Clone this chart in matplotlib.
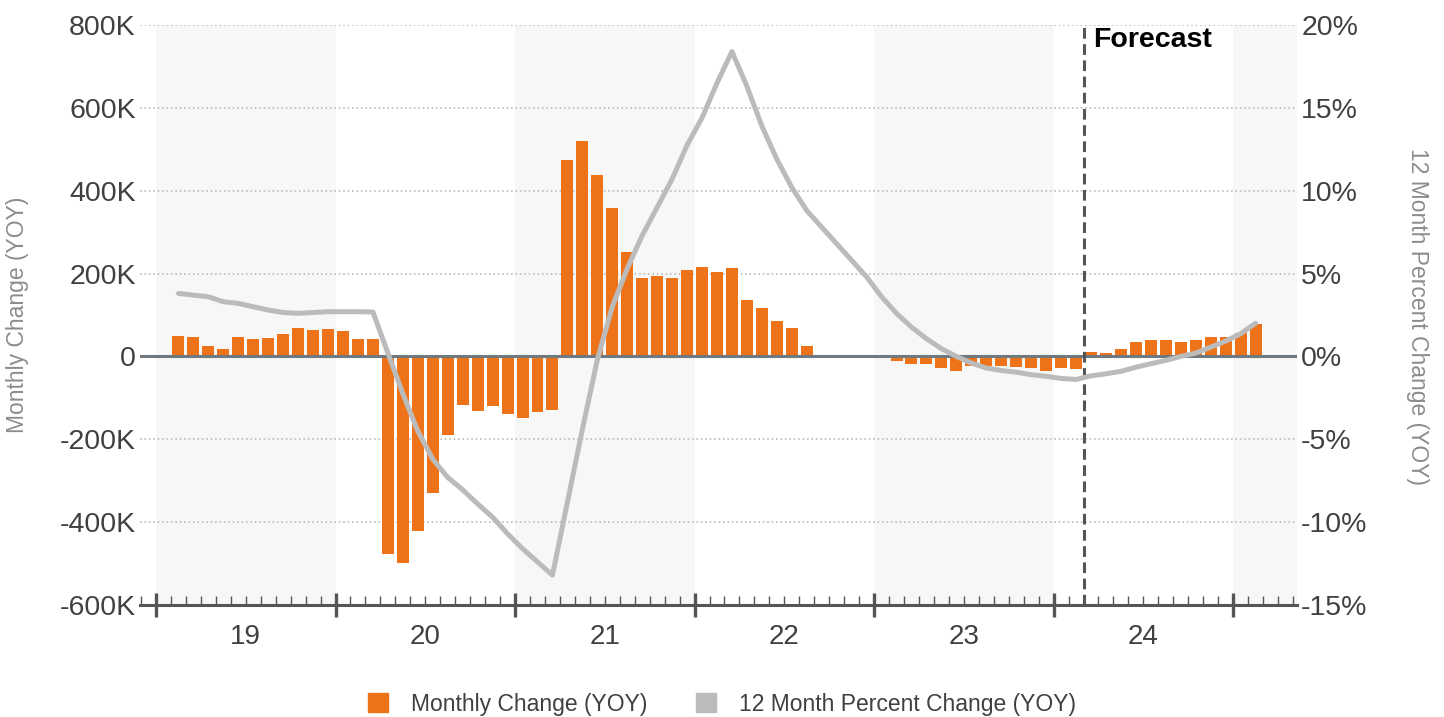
import matplotlib.pyplot as plt
import numpy as np
import pandas as pd
from matplotlib.patches import Patch

plt.rcParams['font.family'] = ['Liberation Sans', 'DejaVu Sans']

# ------------------------------------------------------------
# dados (mensal, fev/2019 a fev/2025)
# ------------------------------------------------------------
start_month = '2019-02'
end_month = '2025-02'
forecast_start = '2024-03'
shaded_years = [2019, 2021, 2023, 2025]
year_labels = ['19', '20', '21', '22', '23', '24']

# variacao mensal (YOY), em milhares
monthly_change_k = [
    49, 47, 26, 18, 46, 41, 44, 54, 68, 64, 66, 62, 43, 41,
    -476, -498, -422, -330, -190, -117, -131, -120, -138, -149, -134, -130,
    475, 521, 439, 359, 253, 189, 193, 189, 208, 216, 204, 213, 137, 118, 86, 69, 26,
    -3, -2, -2, -2, -3, -12, -18, -18, -29, -34, -23, -22, -24, -26, -29, -35, -28, -31,
    10, 8, 17, 36, 40, 40, 36, 39, 47, 48, 56, 79,
]

# variacao percentual 12 meses (YOY)
pct_change = [
    3.8, 3.7, 3.6, 3.3, 3.2, 3.0, 2.8, 2.65, 2.6, 2.65, 2.7, 2.7, 2.7, 2.68,
    0.2, -2.25, -4.5, -6.2, -7.3, -8.05, -8.9, -9.7, -10.7, -11.6, -12.4, -13.2,
    -8.8, -4.4, -0.2, 3.0, 5.3, 7.3, 9.0, 10.7, 12.75, 14.4, 16.5, 18.4, 16.3, 13.9,
    11.9, 10.2, 8.8, 7.8, 6.8, 5.8, 4.8, 3.6, 2.6, 1.77, 1.07, 0.47, 0.0, -0.4, -0.7,
    -0.85, -0.95, -1.1, -1.2, -1.33, -1.39, -1.17, -1.05, -0.9, -0.65, -0.44, -0.24,
    0.0, 0.2, 0.56, 0.92, 1.37, 2.0,
]

months = pd.period_range(start_month, end_month, freq='M')


def month_pos(p):
    # meses desde jan/2019
    return (p.year - 2019) * 12 + p.month - 1


x = np.array([month_pos(p) for p in months]) + 0.5
x_fc = month_pos(pd.Period(forecast_start, freq='M'))

ORANGE = '#EE7318'
LINE_GRAY = '#BBBBBB'
DARK = '#555555'
TXT = '#404040'

fig = plt.figure(figsize=(14.44, 7.17), dpi=100)
ax = fig.add_axes([140 / 1444, 1 - 605 / 717, (1297 - 140) / 1444, (605 - 25) / 717])
xmin, xmax = -1.07, 76.27
ax.set_xlim(xmin, xmax)
ax.set_ylim(-600, 800)

# faixas cinza dos anos
for yr in shaded_years:
    a = (yr - 2019) * 12
    ax.axvspan(a, min(a + 12, xmax), color='#F7F7F7', lw=0, zorder=0)

# grade pontilhada
for v in [-400, -200, 200, 400, 600, 800]:
    ax.axhline(v, color='#BBBBBB', lw=1.2, ls=':', zorder=1)

ax.bar(x, monthly_change_k, width=0.8, color=ORANGE, zorder=2)
ax.axhline(0, color='#707880', lw=2.2, zorder=3)
ax.axvline(x_fc, color=DARK, lw=2.2, dashes=(3.5, 1.8), zorder=3)
ax.text(x_fc + 0.65, 764, 'Forecast', fontsize=20.5, fontweight='bold', color='black',
        va='center', ha='left', zorder=5)

# eixos
for s in ['top', 'left', 'right']:
    ax.spines[s].set_visible(False)
ax.spines['bottom'].set_color(DARK)
ax.spines['bottom'].set_linewidth(2.2)

ax.set_xticks(np.arange(0, 73, 12))
ax.set_xticks(np.arange(-1, 77, 1), minor=True)
ax.tick_params(axis='x', which='major', direction='inout', length=17, width=2.4,
               color=DARK, labelbottom=False)
ax.tick_params(axis='x', which='minor', direction='in', length=6.5, width=1.0, color=DARK)
for i, lab in enumerate(year_labels):
    ax.text(6 + 12 * i, -0.055, lab, transform=ax.get_xaxis_transform(),
            ha='center', va='center', fontsize=20, color=TXT)

yt = np.arange(-600, 801, 200)
ax.set_yticks(yt)
ax.set_yticklabels(['0' if v == 0 else f'{v}K' for v in yt])
ax.tick_params(axis='y', length=0, pad=3, labelsize=20.5, labelcolor=TXT)

ax2 = ax.twinx()
ax2.set_ylim(-15, 20)
ax2.plot(x, pct_change, color=LINE_GRAY, lw=3.6, solid_joinstyle='round',
         solid_capstyle='round', zorder=4)
for s in ax2.spines.values():
    s.set_visible(False)
pt = np.arange(-15, 21, 5)
ax2.set_yticks(pt)
ax2.set_yticklabels([f'{v}%' for v in pt])
ax2.tick_params(axis='y', length=0, pad=3, labelsize=20.5, labelcolor=TXT)

fig.text(18 / 1444, 1 - 315 / 717, 'Monthly Change (YOY)', rotation=90,
         ha='center', va='center', fontsize=16.5, color='#8C8C8C')
fig.text(1418 / 1444, 1 - 317 / 717, '12 Month Percent Change (YOY)', rotation=270,
         ha='center', va='center', fontsize=16.5, color='#8C8C8C')

handles = [Patch(color=ORANGE), Patch(color=LINE_GRAY)]
fig.legend(handles, ['Monthly Change (YOY)', '12 Month Percent Change (YOY)'],
           loc='center', bbox_to_anchor=(0.5, 1 - 704 / 717), ncol=2, frameon=False,
           fontsize=16.5, handlelength=0.9, handleheight=0.9, handletextpad=1.0,
           columnspacing=2.1, labelcolor=TXT)

fig.savefig('out.png', dpi=100)
